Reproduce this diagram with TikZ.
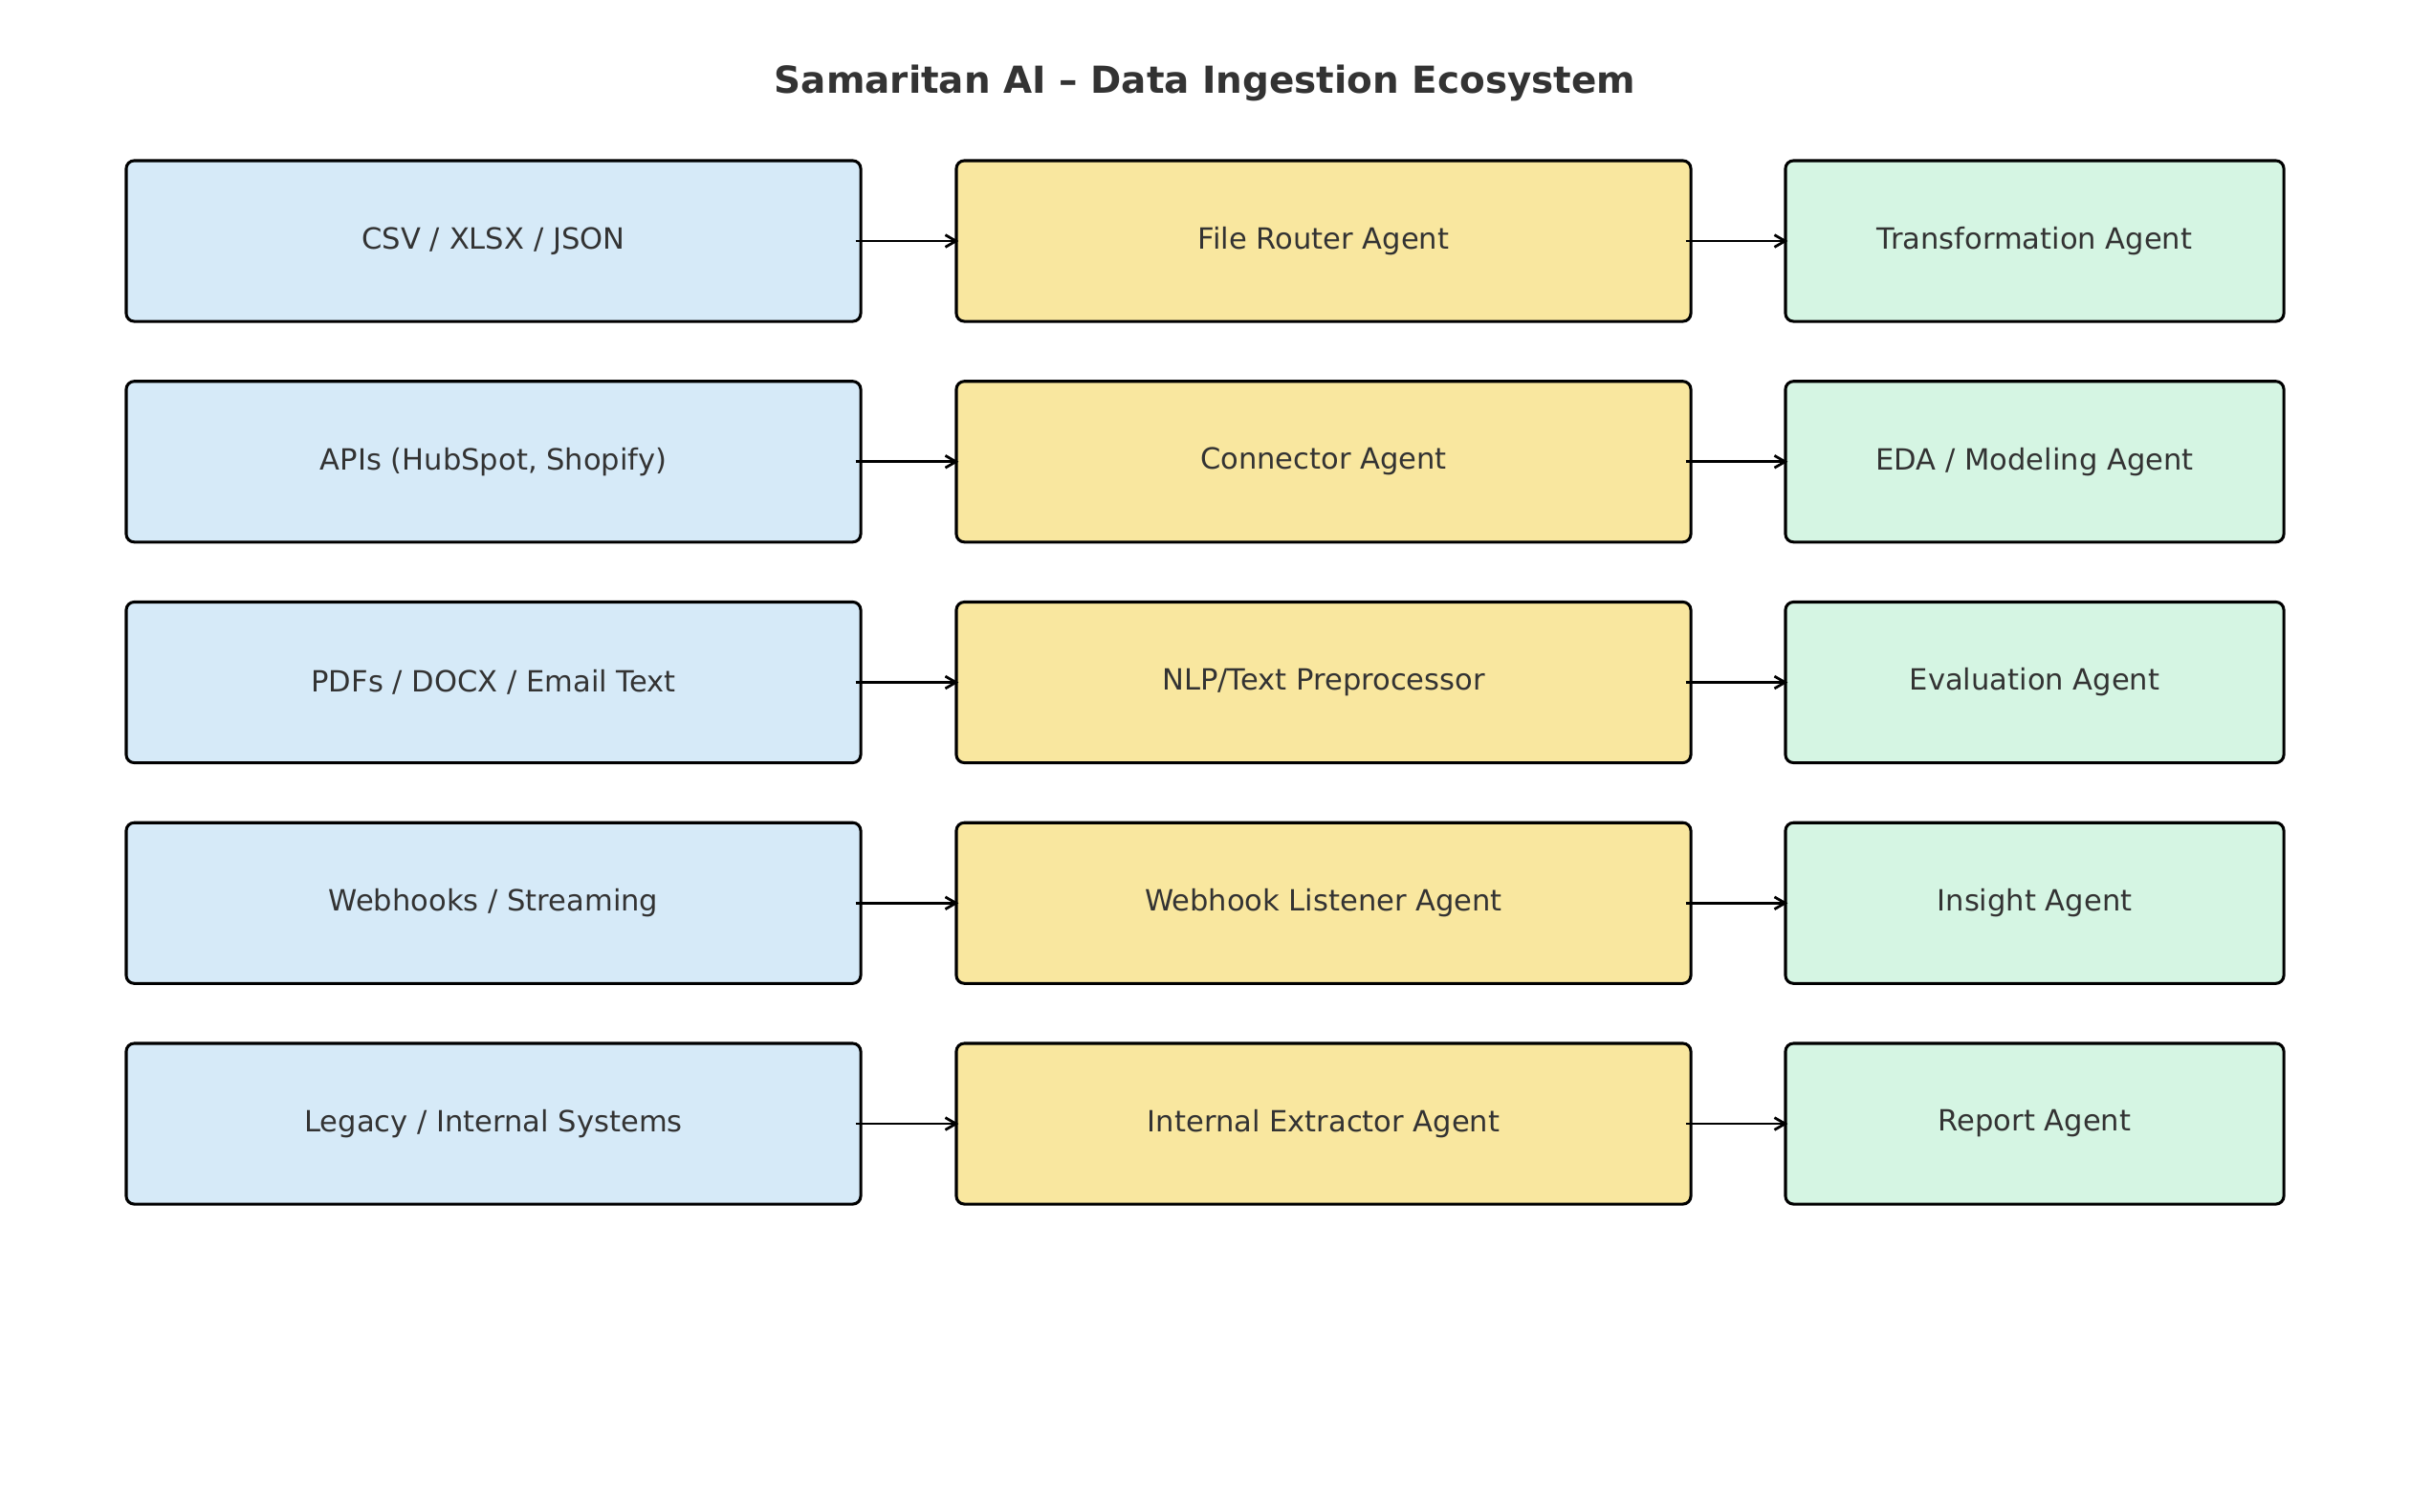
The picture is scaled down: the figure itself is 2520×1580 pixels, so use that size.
\documentclass[tikz,border=0pt]{standalone}
\usepackage{fontspec}
\usetikzlibrary{arrows.meta}
\setmainfont{DejaVu Sans}
\definecolor{bleu}{HTML}{D6EAF8}
\definecolor{jaune}{HTML}{F9E79F}
\definecolor{vert}{HTML}{D5F5E3}
\definecolor{texte}{HTML}{333333}

\begin{document}
\begin{tikzpicture}[x=0.36pt,y=-0.36pt]
\tikzstyle{lien}=[-{Straight Barb[length=4pt,width=4.6pt]},line width=1pt,shorten >=-1.4pt]
\tikzset{boite/.style={draw,line width=1.1pt,rounded corners=3pt,fill=#1,text=texte,
minimum height=60.5pt,minimum width=276.5pt,font=\fontsize{11}{13}\selectfont},
boite/.default={white}}
\useasboundingbox (0,0) rectangle (2520,1580);
\node[text=texte,anchor=base,font=\fontsize{14}{17}\selectfont\bfseries] (titre) at (1260,97) {Samaritan AI – Data Ingestion Ecosystem};

\node[boite=bleu] (S1) at (516,252) {CSV / XLSX / JSON};
\node[boite=jaune] (R1) at (1384,252) {File Router Agent};
\node[boite=vert,minimum width=187.6pt] (T1) at (2127.5,252) {Transformation Agent};

\node[boite=bleu] (S2) at (516,482.75) {APIs (HubSpot, Shopify)};
\node[boite=jaune] (R2) at (1384,482.75) {Connector Agent};
\node[boite=vert,minimum width=187.6pt] (T2) at (2127.5,482.75) {EDA / Modeling Agent};

\node[boite=bleu] (S3) at (516,713.5) {PDFs / DOCX / Email Text};
\node[boite=jaune] (R3) at (1384,713.5) {NLP/Text Preprocessor};
\node[boite=vert,minimum width=187.6pt] (T3) at (2127.5,713.5) {Evaluation Agent};

\node[boite=bleu] (S4) at (516,944.25) {Webhooks / Streaming};
\node[boite=jaune] (R4) at (1384,944.25) {Webhook Listener Agent};
\node[boite=vert,minimum width=187.6pt] (T4) at (2127.5,944.25) {Insight Agent};

\node[boite=bleu] (S5) at (516,1175) {Legacy / Internal Systems};
\node[boite=jaune] (R5) at (1384,1175) {Internal Extractor Agent};
\node[boite=vert,minimum width=187.6pt] (T5) at (2127.5,1175) {Report Agent};

\draw[lien] ([xshift=-2.5pt]S1.east) -- (R1.west);
\draw[lien] ([xshift=-2.5pt]R1.east) -- (T1.west);
\draw[lien] ([xshift=-2.5pt]S2.east) -- (R2.west);
\draw[lien] ([xshift=-2.5pt]R2.east) -- (T2.west);
\draw[lien] ([xshift=-2.5pt]S3.east) -- (R3.west);
\draw[lien] ([xshift=-2.5pt]R3.east) -- (T3.west);
\draw[lien] ([xshift=-2.5pt]S4.east) -- (R4.west);
\draw[lien] ([xshift=-2.5pt]R4.east) -- (T4.west);
\draw[lien] ([xshift=-2.5pt]S5.east) -- (R5.west);
\draw[lien] ([xshift=-2.5pt]R5.east) -- (T5.west);


\end{tikzpicture}
\end{document}
